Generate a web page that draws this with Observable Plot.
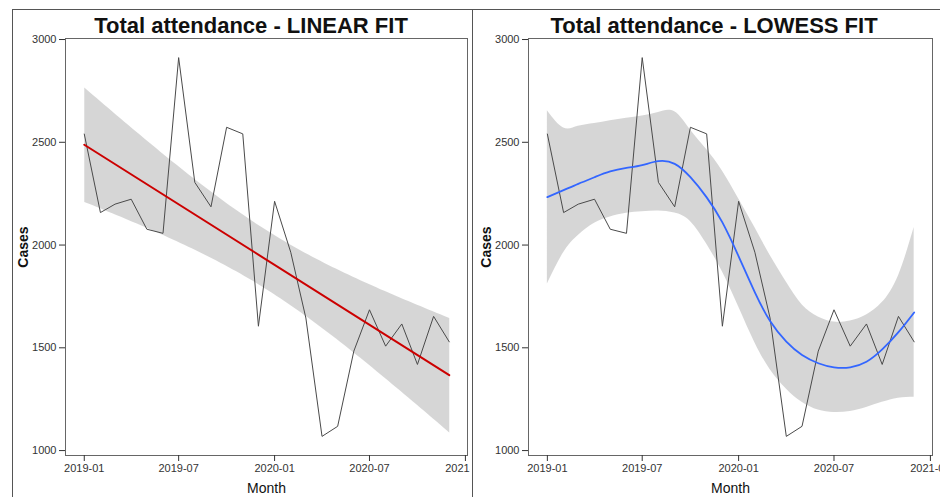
<!DOCTYPE html>
<html><head><meta charset="utf-8">
<script src="https://cdn.jsdelivr.net/npm/d3@7"></script>
<script src="https://cdn.jsdelivr.net/npm/@observablehq/plot@0.6"></script>
<style>
body{margin:0;background:#fff;font-family:"Liberation Sans",Arial,sans-serif;}
#wrap{position:relative;width:940px;height:497px;overflow:hidden;background:#fff}
.title{position:absolute;top:15px;font-weight:bold;font-size:22px;line-height:22px;color:#111;white-space:nowrap;transform:translateX(-50%);z-index:3}
.panel{position:absolute;top:30px;z-index:1}
.panel svg{display:block;overflow:hidden}
g[aria-label="y-axis label"] text{font-size:14px;font-weight:bold;fill:#111}
g[aria-label="x-axis label"] text{font-size:14px;fill:#111}
.rule{position:absolute;background:#555;z-index:2}
</style>
</head><body>
<div id="wrap">
  <div class="rule" style="left:12px;top:9px;width:928px;height:1px"></div>
  <div class="rule" style="left:12px;top:9px;width:1px;height:488px"></div>
  <div class="rule" style="left:472px;top:9px;width:1px;height:488px"></div>
  <div class="title" style="left:251px">Total attendance - LINEAR FIT</div>
  <div class="title" style="left:714px">Total attendance - LOWESS FIT</div>
  <div class="panel" id="left" style="left:0px"></div>
  <div class="panel" id="right" style="left:473px"></div>
</div>
<script>
const months = ["2019-01","2019-02","2019-03","2019-04","2019-05","2019-06","2019-07","2019-08","2019-09","2019-10","2019-11","2019-12",
                "2020-01","2020-02","2020-03","2020-04","2020-05","2020-06","2020-07","2020-08","2020-09","2020-10","2020-11","2020-12"];
const cases = [2540,2158,2199,2223,2077,2057,2912,2305,2186,2573,2541,1605,
               2213,1965,1645,1069,1118,1484,1685,1508,1616,1419,1653,1529];
const lowessFit = [2233,2267,2298,2330,2358,2375,2389,2408,2395,2330,2232,2110,
                   1945,1770,1630,1530,1465,1425,1405,1405,1432,1492,1576,1672];
const lowessLower = [1811,1963,2047,2106,2137,2155,2162,2166,2156,2115,2005,1870,
                     1700,1525,1395,1300,1235,1197,1185,1190,1210,1235,1255,1260];
const lowessUpper = [2654,2570,2578,2592,2605,2617,2628,2645,2648,2560,2465,2360,
                     2225,2085,1950,1820,1710,1650,1625,1630,1660,1720,1850,2085];
const xTicks = ["2019-01","2019-07","2020-01","2020-07","2021-01"];
const yTicks = [1000,1500,2000,2500,3000];
const xDomain = ["2018-11-26","2021-01-05"];
const yDomain = [976,3005];

const parseM = d3.utcParse("%Y-%m");
const parseD = d3.utcParse("%Y-%m-%d");
const data = months.map((m,i)=>({date: parseM(m), cases: cases[i], fit: lowessFit[i], lo: lowessLower[i], hi: lowessUpper[i]}));

function panel(width, ml, mr, marks){
  return Plot.plot({
    width, height: 467, marginLeft: ml, marginRight: mr, marginTop: 8, marginBottom: 42,
    style: {fontFamily: "'Liberation Sans', Arial, sans-serif", fontSize: "11px", color: "#333", background: "transparent", overflow: "hidden"},
    x: {type: "utc", domain: xDomain.map(parseD)},
    y: {domain: yDomain},
    marks: [
      ...marks,
      Plot.frame({stroke: "#666"}),
      Plot.axisX({ticks: xTicks.map(parseM), tickFormat: d3.utcFormat("%Y-%m"), tickSize: 6, tickPadding: 3,
                  label: "Month", labelAnchor: "center", labelOffset: 37, labelArrow: "none"}),
      Plot.axisY({ticks: yTicks, tickFormat: d3.format("d"), tickSize: 6, tickPadding: 3,
                  label: "Cases", labelAnchor: "center", labelOffset: 47, labelArrow: "none"})
    ]
  });
}

document.getElementById("left").append(panel(470, 65, 3, [
  Plot.linearRegressionY(data, {x: "date", y: "cases", ci: 0.95, stroke: "none", fill: "#999", fillOpacity: 0.4}),
  Plot.line(data, {x: "date", y: "cases", stroke: "#4a4a4a", strokeWidth: 1}),
  Plot.linearRegressionY(data, {x: "date", y: "cases", ci: 0, stroke: "#cc0000", strokeWidth: 2})
]));

document.getElementById("right").append(panel(467, 55, 8, [
  Plot.areaY(data, {x: "date", y1: "lo", y2: "hi", fill: "#999", fillOpacity: 0.4, curve: "natural"}),
  Plot.line(data, {x: "date", y: "cases", stroke: "#4a4a4a", strokeWidth: 1}),
  Plot.line(data, {x: "date", y: "fit", stroke: "#3366ff", strokeWidth: 1.8, curve: "natural"})
]));
</script>
</body></html>
